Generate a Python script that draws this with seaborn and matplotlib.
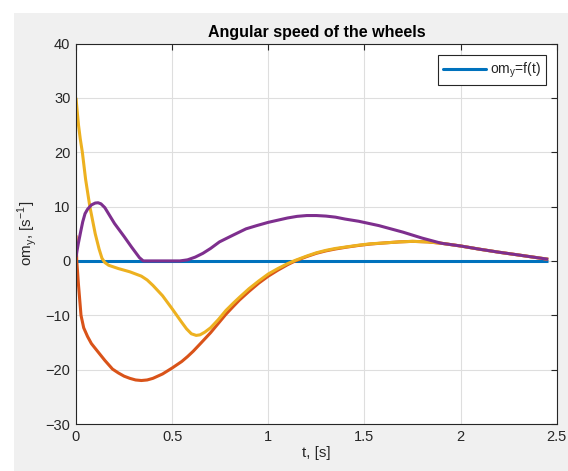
import numpy as np
import pandas as pd
import matplotlib
matplotlib.use("Agg")
import matplotlib.pyplot as plt
import seaborn as sns
from matplotlib.patches import Rectangle
from matplotlib.lines import Line2D

# Angular speed of each wheel over time
t_blue = [0.0, 2.456]
om_blue = [0.0, 0.0]

t_orange = [0.0, 0.004, 0.012, 0.026, 0.04, 0.06, 0.08, 0.107, 0.15, 0.19, 0.22, 0.25, 0.28,
            0.31, 0.34, 0.37, 0.4, 0.45, 0.5, 0.55, 0.58, 0.61, 0.65, 0.7, 0.74, 0.78, 0.82,
            0.85, 0.9, 0.95, 1.0, 1.05, 1.1, 1.14, 1.2, 1.25, 1.3, 1.35, 1.41, 1.47, 1.53,
            1.6, 1.68, 1.75, 1.83, 1.9, 2.0, 2.1, 2.2, 2.3, 2.456]
om_orange = [4.7, 0.0, -4.0, -10.0, -12.3, -13.9, -15.2, -16.4, -18.3, -19.9, -20.6, -21.2, -21.6,
             -21.9, -22.0, -21.9, -21.6, -20.8, -19.7, -18.5, -17.6, -16.6, -15.1, -13.2, -11.5, -9.8, -8.3,
             -7.2, -5.6, -4.1, -2.8, -1.7, -0.7, 0.0, 0.8, 1.4, 1.85, 2.2, 2.55, 2.85, 3.1,
             3.3, 3.5, 3.6, 3.5, 3.25, 2.75, 2.15, 1.6, 1.1, 0.3]

t_yellow = [0.0, 0.005, 0.013, 0.022, 0.033, 0.05, 0.072, 0.1, 0.12, 0.135, 0.15, 0.17, 0.22,
            0.28, 0.34, 0.37, 0.4, 0.45, 0.5, 0.55, 0.575, 0.6, 0.625, 0.645, 0.67, 0.7, 0.74,
            0.78, 0.82, 0.85, 0.9, 0.95, 1.0, 1.05, 1.1, 1.14, 1.2, 1.25, 1.3, 1.35, 1.41,
            1.47, 1.53, 1.6, 1.68, 1.75, 1.83, 1.9, 2.0, 2.1, 2.2, 2.3, 2.456]
om_yellow = [30.0, 28.0, 25.0, 22.5, 20.0, 15.0, 10.0, 5.0, 2.2, 0.5, -0.3, -0.8, -1.4,
             -2.0, -2.8, -3.5, -4.5, -6.4, -8.8, -11.3, -12.5, -13.4, -13.7, -13.6, -13.1, -12.3, -10.8,
             -9.1, -7.7, -6.7, -5.1, -3.7, -2.4, -1.4, -0.5, 0.1, 0.9, 1.5, 1.95, 2.3, 2.6,
             2.9, 3.15, 3.3, 3.5, 3.6, 3.5, 3.25, 2.75, 2.15, 1.6, 1.1, 0.3]

t_purple = [0.0, 0.006, 0.012, 0.025, 0.035, 0.047, 0.06, 0.08, 0.1, 0.115, 0.13, 0.15, 0.2,
            0.25, 0.29, 0.33, 0.35, 0.45, 0.54, 0.58, 0.62, 0.66, 0.7, 0.746, 0.78, 0.82,
            0.884, 0.94, 1.0, 1.05, 1.1, 1.15, 1.2, 1.25, 1.3, 1.35, 1.4, 1.47, 1.575, 1.7,
            1.8, 1.9, 2.0, 2.1, 2.2, 2.3, 2.456]
om_purple = [0.7, 2.0, 3.2, 5.5, 7.2, 8.7, 9.5, 10.3, 10.65, 10.7, 10.5, 9.8, 6.9,
             4.5, 2.5, 0.6, 0.0, 0.0, 0.0, 0.2, 0.7, 1.4, 2.3, 3.5, 4.1, 4.8,
             5.9, 6.5, 7.1, 7.5, 7.9, 8.2, 8.35, 8.35, 8.25, 8.05, 7.7, 7.3, 6.5, 5.3,
             4.2, 3.25, 2.75, 2.15, 1.6, 1.1, 0.3]

x_ticks = [0, 0.5, 1, 1.5, 2, 2.5]
x_tick_labels = ["0", "0.5", "1", "1.5", "2", "2.5"]
y_ticks = [-30, -20, -10, 0, 10, 20, 30, 40]

series = [
    (t_blue, om_blue, "#0072BD"),
    (t_orange, om_orange, "#D95319"),
    (t_yellow, om_yellow, "#EDB120"),
    (t_purple, om_purple, "#7E2F8E"),
]

sns.set_style("white")
plt.rcParams["font.family"] = ["Liberation Sans", "DejaVu Sans"]
plt.rcParams["axes.unicode_minus"] = True

W, H = 568, 471
fig = plt.figure(figsize=(W / 100, H / 100), dpi=100, facecolor="white")
fig.patches.append(Rectangle((14 / W, 0), 1 - 14 / W, 1 - 13 / H,
                             transform=fig.transFigure, facecolor="#f0f0f0",
                             edgecolor="none", zorder=-10))

ax = fig.add_axes([76 / W, 1 - 424 / H, (556.7 - 76) / W, (424 - 43.5) / H])
ax.set_facecolor("white")

handles = []
for i, (t, om, color) in enumerate(series):
    df = pd.DataFrame({"t": t, "om": om})
    sns.lineplot(data=df, x="t", y="om", ax=ax, color=color, linewidth=2.2,
                 sort=False, estimator=None, solid_joinstyle="round",
                 solid_capstyle="butt")
    if i == 0:
        handles.append(Line2D([], [], color=color, linewidth=2.2))

ax.set_xlim(0, 2.5)
ax.set_ylim(-30, 40)
ax.set_xticks(x_ticks)
ax.set_xticklabels(x_tick_labels)
ax.set_yticks(y_ticks)
ax.grid(True, color="#dedede", linewidth=0.8)
ax.set_axisbelow(True)

for side in ["left", "right", "top", "bottom"]:
    ax.spines[side].set_visible(True)
    ax.spines[side].set_color("#262626")
    ax.spines[side].set_linewidth(0.8)

ax.tick_params(axis="both", which="both", direction="in", length=4, width=0.8,
               colors="#262626", labelsize=10.5, top=True, right=True,
               labelcolor="#262626", pad=4)

ax.set_title("Angular speed of the wheels", fontsize=11.5, fontweight="bold",
             color="#000000", pad=5)
ax.set_xlabel("t, [s]", fontsize=11, color="#262626", labelpad=2)
ax.set_ylabel(r"om$_\mathregular{y}$, [s$^\mathregular{-1}$]", fontsize=11,
              color="#262626", labelpad=5)

leg = ax.legend(handles=handles, labels=[r"om$_\mathregular{y}$=f(t)"],
                loc="upper right", fontsize=10, frameon=True, fancybox=False,
                handlelength=3.1, handletextpad=0.25, borderpad=0.4,
                borderaxespad=0.0, bbox_to_anchor=(0.978, 0.970))
leg.get_frame().set_edgecolor("#262626")
leg.get_frame().set_linewidth(0.8)
leg.get_frame().set_facecolor("white")
leg.get_frame().set_alpha(1)

fig.savefig("out.png", dpi=100, facecolor=fig.get_facecolor())
